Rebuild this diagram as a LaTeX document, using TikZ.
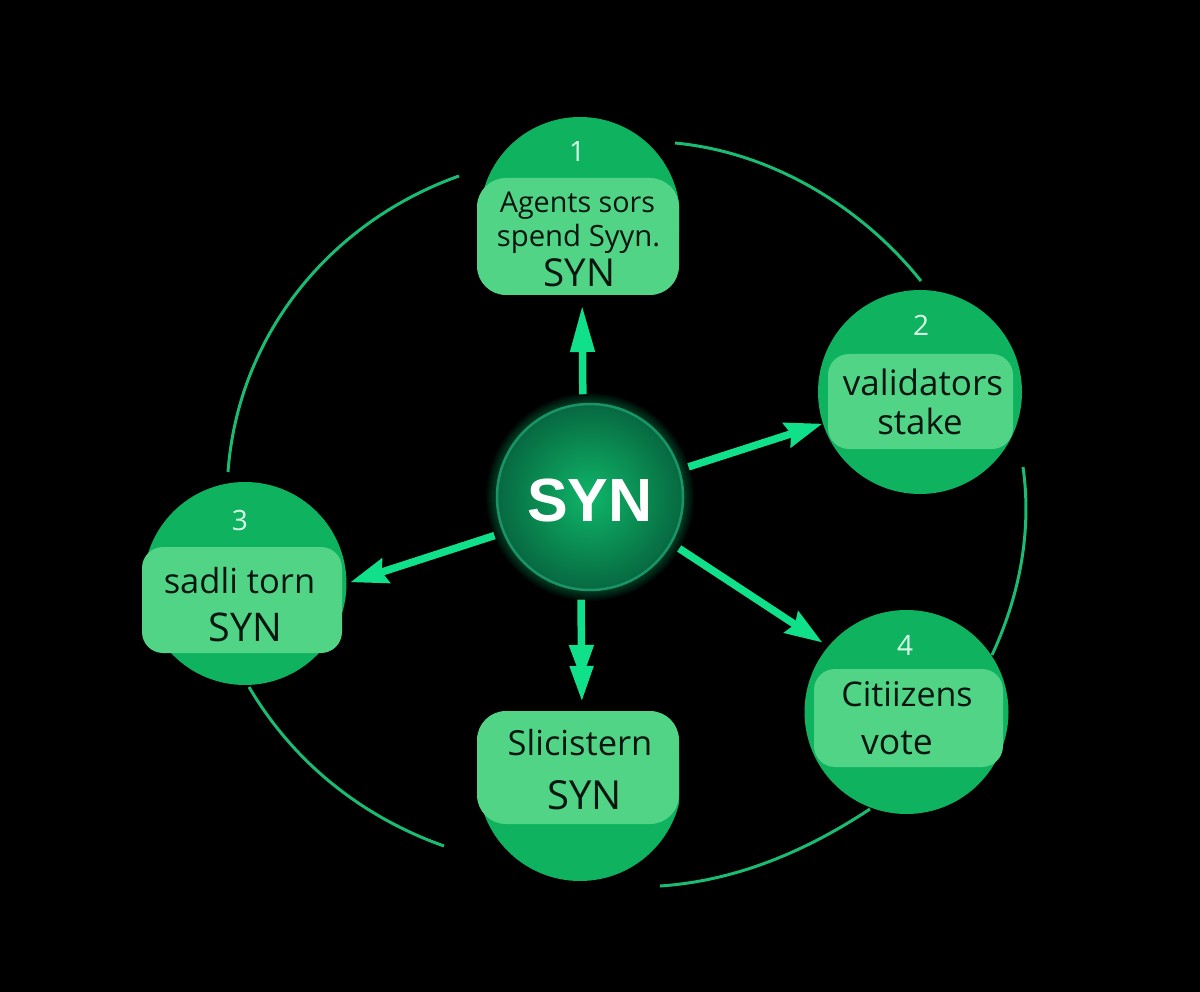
\documentclass[tikz,border=0pt]{standalone}
\usepackage{fontspec}
\setmainfont{Open Sans}
\newfontfamily\hubfont{Liberation Sans}
\usetikzlibrary{arrows.meta}
\definecolor{bgblack}{HTML}{000000}
\definecolor{capgreen}{HTML}{0FB25F}
\definecolor{panelgreen}{HTML}{52D487}
\definecolor{ink}{HTML}{04160F}
\definecolor{numwhite}{HTML}{D8FBE8}
\definecolor{arrowgreen}{HTML}{10E08A}
\definecolor{ringgreen}{HTML}{1A9467}
\definecolor{arcgreen}{HTML}{1ABB72}
\definecolor{hubA}{HTML}{0FB56A}
\definecolor{hubB}{HTML}{0A8850}
\definecolor{hubC}{HTML}{055236}
\definecolor{hubD}{HTML}{022A1B}
\pgfdeclareradialshading{hubshade}{\pgfpoint{0bp}{0bp}}{color(0bp)=(hubA);color(15bp)=(hubB);color(32bp)=(hubC);color(50bp)=(hubD)}
\tikzset{
  x=1pt,y=-1pt,
  cap/.style={circle,fill=capgreen,draw=none,minimum size=#1,inner sep=0pt,outer sep=0pt},
  panel/.style={rectangle,rounded corners=#1,fill=panelgreen,draw=none,inner sep=0pt,outer sep=0pt},
  panel/.default=21pt,
  number/.style={text=numwhite,font=\fontsize{28}{30}\selectfont,inner sep=0pt},
  label/.style={text=ink,inner sep=0pt,font=\fontsize{#1}{40}\selectfont},
  orbit/.style={draw=arcgreen,line width=3pt},
  spoke/.style={draw=arrowgreen,line width=7.5pt},
  barbed/.style={-{Stealth[length=37pt,width=25pt,inset=4pt]}},
}
\begin{document}
\begin{tikzpicture}
\useasboundingbox (0,0) rectangle (1200,992);
\fill[bgblack] (0,0) rectangle (1200,992);
% orbit end points
\coordinate (a1) at (459,176); \coordinate (a2) at (228,472);
\coordinate (b1) at (675,143); \coordinate (b2) at (921,281);
\coordinate (c1) at (1023,467); \coordinate (c2) at (992,655);
\coordinate (d1) at (870,809); \coordinate (d2) at (660,886);
\coordinate (e1) at (249,687); \coordinate (e2) at (444,846);
\draw[orbit] (a1) .. controls (330,222) and (238,335) .. (a2);
\draw[orbit] (b1) .. controls (770,152) and (860,205) .. (b2);
\draw[orbit] (c1) .. controls (1032,530) and (1020,595) .. (c2);
\draw[orbit] (d1) .. controls (805,852) and (735,881) .. (d2);
\draw[orbit] (e1) .. controls (295,765) and (365,818) .. (e2);
% caps
\begin{scope}
\clip (477,100) rectangle (679,250);
\node[cap=200pt] (n1) at (580,217) {};
\end{scope}
\node[cap=204pt] (n2) at (920,392) {};
\node[cap=203pt] (n3) at (245,583.5) {};
\node[cap=204pt] (n4) at (906.5,712) {};
\begin{scope}
\clip (477,760) rectangle (679,900);
\node[cap=204pt] (n5) at (580,779) {};
\end{scope}
% panels
\node[panel=29pt,minimum width=202pt,minimum height=117pt] (p1) at (578,236.5) {};
\node[panel,minimum width=185pt,minimum height=95pt] (p2) at (920.5,401.5) {};
\node[panel,minimum width=200pt,minimum height=106pt] (p3) at (242,600) {};
\node[panel,minimum width=189pt,minimum height=98pt] (p4) at (908.5,718) {};
\node[panel=29pt,minimum width=202pt,minimum height=113pt] (p5) at (578,767.5) {};
% numbers
\node[number] (k1) at (577,152) {1};
\node[number] (k2) at (921,325) {2};
\node[number] (k3) at (240,520) {3};
\node[number] (k4) at (905,645) {4};
% panel texts
\node[label=28.7] (t1a) at (577.5,206) {Agents sors};
\node[label=29.3] (t1b) at (578.5,239) {spend Syyn.};
\node[label=38.5] (t1c) at (579.5,273) {SYN};
\node[label=35] (t2a) at (923,382) {validators};
\node[label=34.8] (t2b) at (920,421) {stake};
\node[label=34.5] (t3a) at (239.5,581) {sadli torn};
\node[label=39.5] (t3b) at (245.5,627) {SYN};
\node[label=34] (t4a) at (907,694) {Citiizens};
\node[label=35.5] (t4b) at (897,743) {vote};
\node[label=34.5] (t5a) at (580,743) {Slicistern};
\node[label=40] (t5b) at (584.5,795) {SYN};
% hub
\foreach \r in {94,95,...,104}{
  \fill[arrowgreen,opacity=.03] (590,497) circle (\r);
}
\node[circle,minimum size=186pt,inner sep=0pt,outer sep=10pt,draw=ringgreen,line width=2.5pt,
  shading=hubshade] (hub) at (590,497) {};
\node[text=white,inner sep=0pt,font=\hubfont\bfseries\fontsize{61}{61}\selectfont] (hubt) at (590,501) {SYN};
% spokes
\draw[spoke,-{Stealth[length=47pt,width=23pt,inset=0pt]},shorten >=10pt] (hub.94.5) -- (p1.-86);
\draw[spoke,barbed,shorten >=0.5pt] (hub.17.7) -- (n2.198.8);
\draw[spoke,barbed,shorten >=4pt] (hub.202.6) -- (n3.0.5);
\draw[spoke,barbed,shorten >=7pt] (hub.-30) -- (n4.140.8);
\draw[spoke,-{Stealth[length=36pt,width=23pt,inset=0pt,sep=-15pt]Stealth[length=36pt,width=22pt,inset=0pt]},shorten >=9pt] (hub.265) -- (p5.86);
\end{tikzpicture}
\end{document}
